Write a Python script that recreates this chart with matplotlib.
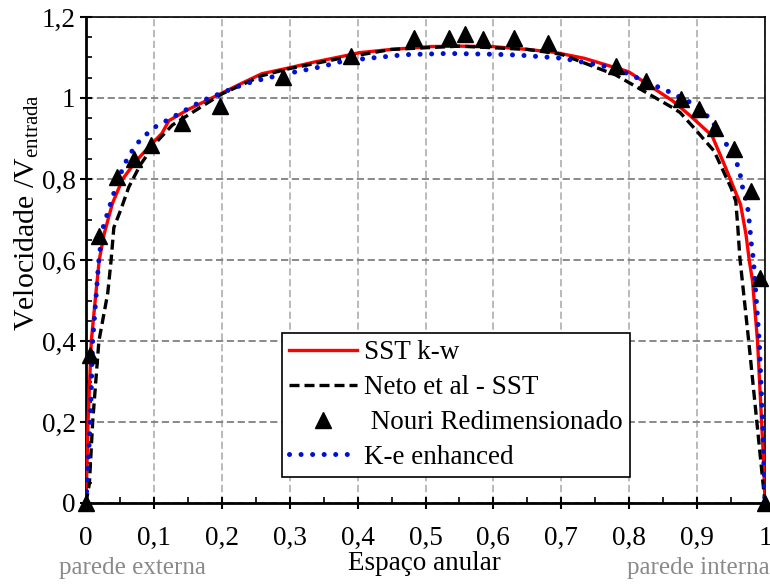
import numpy as np
import matplotlib
matplotlib.use('Agg')
from matplotlib import pyplot as plt
from matplotlib.ticker import MultipleLocator, FuncFormatter

# SST k-w (linha vermelha)
sst_x = [0, 0.003, 0.0078, 0.0146, 0.0195, 0.027, 0.039, 0.054, 0.073, 0.093, 0.112,
         0.122, 0.151, 0.2, 0.229, 0.259, 0.298, 0.337, 0.381, 0.403, 0.45, 0.507,
         0.55, 0.598, 0.65, 0.689, 0.734, 0.799, 0.864, 0.89, 0.922, 0.94, 0.964,
         0.972, 0.977, 0.9815, 0.989, 0.995, 0.998, 1.0]
sst_y = [0, 0.2, 0.4, 0.518, 0.6, 0.666, 0.74, 0.8, 0.843, 0.88, 0.913,
         0.944, 0.972, 1.012, 1.036, 1.06, 1.074, 1.089, 1.104, 1.112, 1.12, 1.127,
         1.128, 1.127, 1.12, 1.113, 1.098, 1.065, 0.993, 0.956, 0.907, 0.836, 0.737,
         0.663, 0.597, 0.55, 0.4, 0.2, 0.1, 0]

# Neto et al - SST (tracejado preto)
neto_x = [0, 0.005, 0.0098, 0.019, 0.032, 0.037, 0.041, 0.051, 0.063, 0.08, 0.102,
          0.127, 0.141, 0.2, 0.259, 0.298, 0.381, 0.45, 0.55, 0.65, 0.7, 0.78,
          0.864, 0.875, 0.895, 0.925, 0.95, 0.957, 0.96, 0.963, 0.976, 0.988, 1.0]
neto_y = [0, 0.048, 0.2, 0.4, 0.518, 0.6, 0.68, 0.723, 0.78, 0.835, 0.888,
          0.933, 0.948, 1.01, 1.055, 1.072, 1.1, 1.12, 1.128, 1.12, 1.108, 1.057,
          0.976, 0.964, 0.927, 0.869, 0.778, 0.745, 0.68, 0.605, 0.4, 0.2, 0]

# Nouri redimensionado (triangulos)
nouri_x = [0, 0.006, 0.0186, 0.045, 0.071, 0.095, 0.142, 0.197, 0.29, 0.39, 0.483,
           0.535, 0.558, 0.584, 0.631, 0.681, 0.78, 0.825, 0.876, 0.903, 0.927,
           0.954, 0.979, 0.992, 1.0]
nouri_y = [0, 0.365, 0.66, 0.804, 0.849, 0.884, 0.939, 0.98, 1.051, 1.104, 1.147,
           1.147, 1.157, 1.145, 1.147, 1.137, 1.078, 1.043, 0.998, 0.973, 0.927,
           0.874, 0.77, 0.556, 0]

# K-e enhanced (pontilhado azul)
ke_x = [0, 0.0064, 0.0098, 0.0146, 0.0185, 0.024, 0.034, 0.044, 0.056, 0.073, 0.098,
        0.127, 0.171, 0.202, 0.234, 0.266, 0.298, 0.346, 0.381, 0.416, 0.47, 0.533,
        0.6, 0.637, 0.702, 0.78, 0.858, 0.895, 0.92, 0.937, 0.954, 0.962, 0.967,
        0.974, 0.977, 0.98, 0.983, 0.9915, 0.9965, 1.0]
ke_y = [0, 0.2, 0.4, 0.505, 0.592, 0.674, 0.728, 0.781, 0.835, 0.884, 0.925,
        0.952, 0.993, 1.014, 1.035, 1.049, 1.061, 1.077, 1.092, 1.098, 1.107, 1.11,
        1.108, 1.106, 1.098, 1.073, 1.016, 0.985, 0.948, 0.902, 0.857, 0.824, 0.779,
        0.737, 0.692, 0.638, 0.6, 0.4, 0.2, 0]

FS = 19.5

plt.rcParams.update({'font.family': ['Liberation Serif', 'DejaVu Serif'],
                     'font.size': FS,
                     'mathtext.fontset': 'custom',
                     'mathtext.rm': 'Liberation Serif',
                     'mathtext.it': 'Liberation Serif:italic'})

fig = plt.figure(figsize=(7.7, 5.84), dpi=100)
ax = fig.add_axes([86 / 770, 1 - 503 / 584, 679 / 770, 486 / 584])

l1, = ax.plot(sst_x, sst_y, color='#ff0000', lw=2.4, zorder=3, label='SST k-w')
l2, = ax.plot(neto_x, neto_y, color='black', lw=2.4, ls=(0, (3.0, 1.5)), zorder=4,
              label='Neto et al - SST')
l4, = ax.plot(ke_x, ke_y, color='#0010d0', lw=3.6, ls=(0, (0.01, 2.3)),
              dash_capstyle='round', zorder=5, label='K-e enhanced')
l3, = ax.plot(nouri_x, nouri_y, ls='none', marker='^', ms=12, color='black',
              zorder=6, clip_on=False, label=' Nouri Redimensionado')

ax.set_xlim(0, 1)
ax.set_ylim(0, 1.2)
ax.xaxis.set_major_locator(MultipleLocator(0.1))
ax.xaxis.set_minor_locator(MultipleLocator(0.05))
ax.yaxis.set_major_locator(MultipleLocator(0.2))
ax.yaxis.set_minor_locator(MultipleLocator(0.05))
fmt = FuncFormatter(lambda v, p: f'{v:.10g}'.replace('.', ','))
ax.xaxis.set_major_formatter(fmt)
ax.yaxis.set_major_formatter(fmt)

ax.tick_params(which='major', direction='inout', length=9, width=1.5, labelsize=FS)
ax.tick_params(which='minor', direction='in', length=4.5, width=1.2)
ax.tick_params(axis='x', which='major', pad=12)
ax.tick_params(axis='y', which='major', pad=3)

for s in ['left', 'bottom']:
    ax.spines[s].set_linewidth(2)
for s in ['top', 'right']:
    ax.spines[s].set_linewidth(1.2)

ax.grid(axis='y', which='major', color='#808080', ls=(0, (4, 2)), lw=1.3)
ax.grid(axis='x', which='major', color='#b4b4b4', ls=(0, (4, 2)), lw=1.3)
ax.set_axisbelow(True)

leg = ax.legend(handles=[l1, l2, l3, l4], loc='upper left',
                bbox_to_anchor=(0.288, 0.35), borderaxespad=0, fontsize=FS,
                handlelength=2.5, handletextpad=0.25, labelspacing=0.36,
                borderpad=0.28, fancybox=False, framealpha=1, edgecolor='black')
leg.get_frame().set_linewidth(1.2)

fig.text(27 / 770, 1 - 213 / 584, r'Velocidade /V$_{\mathrm{entrada}}$',
         rotation=90, ha='center', va='center', fontsize=21.5)
fig.text(424 / 770, 1 - 564 / 584, 'Espaço anular', ha='center', va='center',
         fontsize=FS)
fig.text(132 / 770, 1 - 568 / 584, 'parede externa', ha='center', va='center',
         fontsize=18, color='#8a8a8a')
fig.text(698 / 770, 1 - 568 / 584, 'parede interna', ha='center', va='center',
         fontsize=18, color='#8a8a8a')

fig.savefig('out.png', dpi=100)
